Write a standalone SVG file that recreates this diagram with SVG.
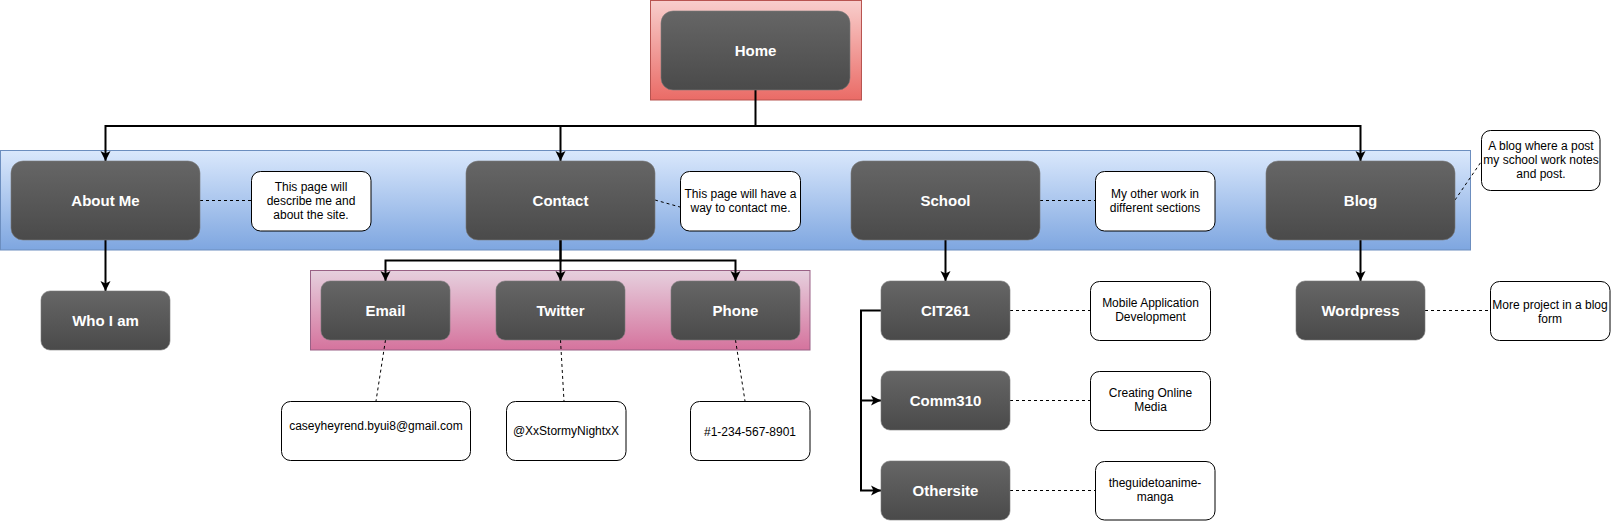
<svg xmlns="http://www.w3.org/2000/svg" width="1611" height="521" viewBox="0 0 1611 521">
<defs>
<linearGradient id="gDark" x1="0" y1="0" x2="0" y2="1"><stop offset="0" stop-color="#666666"/><stop offset="1" stop-color="#4a4a4a"/></linearGradient>
<linearGradient id="gBlue" x1="0" y1="0" x2="0" y2="1"><stop offset="0" stop-color="#dae8fc"/><stop offset="1" stop-color="#7ea6e0"/></linearGradient>
<linearGradient id="gPink" x1="0" y1="0" x2="0" y2="1"><stop offset="0" stop-color="#e6d0de"/><stop offset="1" stop-color="#d5739d"/></linearGradient>
<linearGradient id="gRed" x1="0" y1="0" x2="0" y2="1"><stop offset="0" stop-color="#f8cecc"/><stop offset="1" stop-color="#ea6b66"/></linearGradient>
<marker id="arr" markerUnits="userSpaceOnUse" markerWidth="12" markerHeight="12" viewBox="0 0 12 12" refX="11" refY="6" orient="auto">
<path d="M1,1 L11,6 L1,11 L3.5,6 z" fill="#000"/>
</marker>
</defs>
<style>
.node{fill:url(#gDark);stroke:#7a7a7a;stroke-width:0.6}
.lbl{font-family:"Liberation Sans",Arial,sans-serif;font-weight:bold;font-size:15px;fill:#fff;text-anchor:middle}
.note{fill:#fff;stroke:#000;stroke-width:1}
.nt{font-family:"Liberation Sans",Arial,sans-serif;font-size:12px;fill:#000;text-anchor:middle}
.conn{fill:none;stroke:#000;stroke-width:2;marker-end:url(#arr)}
.dash{fill:none;stroke:#000;stroke-width:1;stroke-dasharray:3 3}
</style>
<rect width="1611" height="521" fill="#fff"/>
<g id="bands">
<rect id="band-home" x="650.5" y="0.5" width="211" height="99.5" fill="url(#gRed)" stroke="#b85450"/>
<rect id="band-level1" x="0.5" y="150.5" width="1470" height="99.5" fill="url(#gBlue)" stroke="#6c8ebf"/>
<rect id="band-contact" x="310.5" y="270.5" width="499.5" height="79.5" fill="url(#gPink)" stroke="#996185"/>
</g>
<g id="connectors">
<path class="conn" d="M755.5,90 V126 H105.5 V161"/>
<path class="conn" d="M755.5,126 H560.5 V161"/>
<path class="conn" d="M755.5,126 H1360.5 V161"/>
<path class="conn" d="M105.5,240 V291"/>
<path class="conn" d="M560.5,240 V260.5 H385.5 V281"/>
<path class="conn" d="M560.5,240 V281"/>
<path class="conn" d="M560.5,260.5 H735.5 V281"/>
<path class="conn" d="M945.5,240 V281"/>
<path class="conn" d="M881,310.5 H861 V400.5 H881"/>
<path class="conn" d="M861,400.5 V490.5 H881"/>
<path class="conn" d="M1360.5,240 V281"/>
<path class="dash" d="M200,200.5 H251"/>
<path class="dash" d="M655,200 L680,207"/>
<path class="dash" d="M1040,200.5 H1095"/>
<path class="dash" d="M1455,200 L1481,162"/>
<path class="dash" d="M385.5,340 L376,401"/>
<path class="dash" d="M560.5,340 L564,401"/>
<path class="dash" d="M735.5,340 L745,401"/>
<path class="dash" d="M1010,310.5 H1090"/>
<path class="dash" d="M1010,400.5 H1090"/>
<path class="dash" d="M1010,490.5 H1095"/>
<path class="dash" d="M1425,310.5 H1490"/>
</g>
<g id="home"><rect class="node" x="661" y="11" width="189" height="79" rx="12"/><text class="lbl" x="755.5" y="56">Home</text></g>
<g id="about-me"><rect class="node" x="11" y="161" width="189" height="79" rx="12"/><text class="lbl" x="105.5" y="206">About Me</text></g>
<g id="contact"><rect class="node" x="466" y="161" width="189" height="79" rx="12"/><text class="lbl" x="560.5" y="206">Contact</text></g>
<g id="school"><rect class="node" x="851" y="161" width="189" height="79" rx="12"/><text class="lbl" x="945.5" y="206">School</text></g>
<g id="blog"><rect class="node" x="1266" y="161" width="189" height="79" rx="12"/><text class="lbl" x="1360.5" y="206">Blog</text></g>
<g id="who-i-am"><rect class="node" x="41" y="291" width="129" height="59" rx="9"/><text class="lbl" x="105.5" y="326">Who I am</text></g>
<g id="email"><rect class="node" x="321" y="281" width="129" height="59" rx="9"/><text class="lbl" x="385.5" y="316">Email</text></g>
<g id="twitter"><rect class="node" x="496" y="281" width="129" height="59" rx="9"/><text class="lbl" x="560.5" y="316">Twitter</text></g>
<g id="phone"><rect class="node" x="671" y="281" width="129" height="59" rx="9"/><text class="lbl" x="735.5" y="316">Phone</text></g>
<g id="cit261"><rect class="node" x="881" y="281" width="129" height="59" rx="9"/><text class="lbl" x="945.5" y="316">CIT261</text></g>
<g id="comm310"><rect class="node" x="881" y="371" width="129" height="59" rx="9"/><text class="lbl" x="945.5" y="406">Comm310</text></g>
<g id="othersite"><rect class="node" x="881" y="461" width="129" height="59" rx="9"/><text class="lbl" x="945.5" y="496">Othersite</text></g>
<g id="wordpress"><rect class="node" x="1296" y="281" width="129" height="59" rx="9"/><text class="lbl" x="1360.5" y="316">Wordpress</text></g>
<g id="note-about"><rect class="note" x="251.5" y="171.5" width="119.5" height="59.5" rx="9"/><text class="nt" x="311" y="191">This page will<tspan x="311" y="205">describe me and</tspan><tspan x="311" y="219">about the site.</tspan></text></g>
<g id="note-contact"><rect class="note" x="680.5" y="171.5" width="120" height="59.5" rx="9"/><text class="nt" x="740.5" y="198">This page will have a<tspan x="740.5" y="212">way to contact me.</tspan></text></g>
<g id="note-school"><rect class="note" x="1095.5" y="171.5" width="119.5" height="59.5" rx="9"/><text class="nt" x="1155" y="198">My other work in<tspan x="1155" y="212">different sections</tspan></text></g>
<g id="note-blog"><rect class="note" x="1481.5" y="130.5" width="118.5" height="60" rx="9"/><text class="nt" x="1541" y="150">A blog where a post<tspan x="1541" y="164">my school work notes</tspan><tspan x="1541" y="178">and post.</tspan></text></g>
<g id="note-email"><rect class="note" x="281.5" y="401.5" width="189" height="59" rx="9"/><text class="nt" x="376" y="430">caseyheyrend.byui8@gmail.com</text></g>
<g id="note-twitter"><rect class="note" x="506.5" y="401.5" width="119.5" height="59" rx="9"/><text class="nt" x="566" y="435">@XxStormyNightxX</text></g>
<g id="note-phone"><rect class="note" x="690.5" y="401.5" width="119.5" height="59" rx="9"/><text class="nt" x="750" y="436">#1-234-567-8901</text></g>
<g id="note-cit261"><rect class="note" x="1090.5" y="281.5" width="120" height="59" rx="9"/><text class="nt" x="1150.5" y="307">Mobile Application<tspan x="1150.5" y="321">Development</tspan></text></g>
<g id="note-comm310"><rect class="note" x="1090.5" y="371.5" width="120" height="59" rx="9"/><text class="nt" x="1150.5" y="397">Creating Online<tspan x="1150.5" y="411">Media</tspan></text></g>
<g id="note-othersite"><rect class="note" x="1095.5" y="461.5" width="119.5" height="58.5" rx="9"/><text class="nt" x="1155" y="487">theguidetoanime-<tspan x="1155" y="501">manga</tspan></text></g>
<g id="note-wordpress"><rect class="note" x="1490.5" y="281.5" width="119.5" height="59" rx="9"/><text class="nt" x="1550" y="309">More project in a blog<tspan x="1550" y="323">form</tspan></text></g>
</svg>
